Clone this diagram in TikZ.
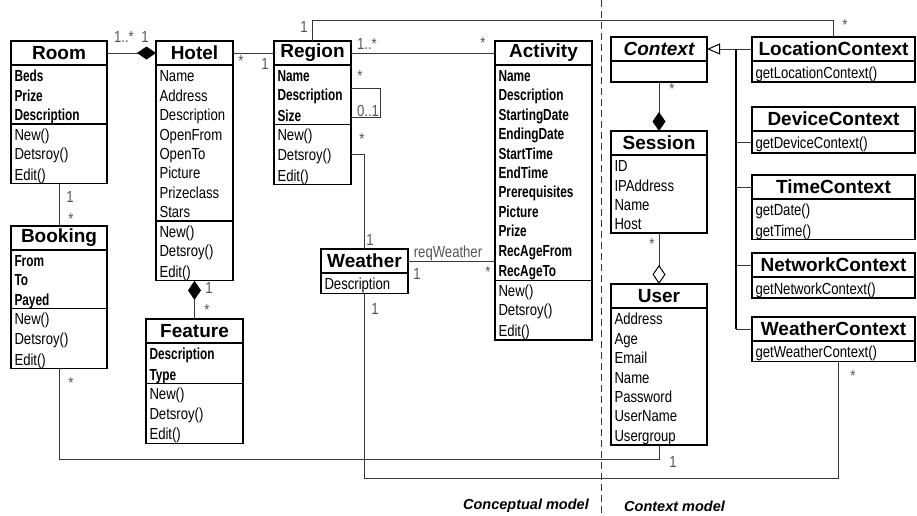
\documentclass[tikz,border=0pt]{standalone}
\usepackage{fontspec}
\setmainfont{Liberation Sans}
\newfontfamily\attrfont[FakeStretch=0.82]{Liberation Sans}
\newfontfamily\attrboldfont[FakeStretch=0.74]{Liberation Sans}
\usepackage{tikz}
\usetikzlibrary{positioning,arrows.meta}
\definecolor{multgray}{gray}{0.33}
\definecolor{linegray}{gray}{0.22}
\newcommand\rowstrut{\rule[-3pt]{0pt}{19.4pt}}

\begin{document}
\begin{tikzpicture}[x=1pt,y=-1pt,
  head/.style={draw,line width=1.3pt,outer sep=0pt,inner sep=0pt,minimum height=24pt,font=\fontsize{19}{19}\selectfont\bfseries},
  sect/.style={draw,line width=1.3pt,outer sep=0pt,inner xsep=3.5pt,inner ysep=0pt,align=left,
    font=\attrfont\fontsize{16}{19.4}\selectfont,execute at begin node=\rowstrut,execute at end node=\rowstrut},
  bsect/.style={sect,font=\attrboldfont\bfseries\fontsize{16}{19.4}\selectfont},
  assoc/.style={draw=linegray,line width=1pt},
  mult/.style={text=multgray,inner sep=0pt,font=\attrfont\fontsize{16}{16}\selectfont},
  compo/.style={-{Diamond[length=19pt,width=13pt,color=black]}},
  aggr/.style={-{Diamond[open,length=19pt,width=13pt,color=black]}},
  gen/.style={-{Triangle[open,length=13pt,width=11pt,color=black]}},
  model/.style={inner sep=0pt,font=\fontsize{14.5}{14.5}\selectfont\bfseries\itshape},
]
\useasboundingbox (0,0) rectangle (917,515);

%%%CONCEPTUAL MODEL
\node[head,minimum width=96pt,anchor=north west] (room) at (11,41) {Room};
\node[bsect,text width=89pt,minimum height=59pt,below=0pt of room] (room-a) {Beds\\Prize\\Description};
\node[sect,text width=89pt,minimum height=59pt,below=0pt of room-a] (room-o) {New()\\Detsroy()\\Edit()};

\node[head,minimum width=77pt,anchor=north west] (hotel) at (156,41) {Hotel};
\node[sect,text width=70pt,minimum height=156pt,below=0pt of hotel] (hotel-a) {Name\\Address\\Description\\OpenFrom\\OpenTo\\Picture\\Prizeclass\\Stars};
\node[sect,text width=70pt,minimum height=58pt,below=0pt of hotel-a] (hotel-o) {New()\\Detsroy()\\Edit()};

\node[head,minimum width=77pt,anchor=north west] (region) at (274,41) {Region};
\node[bsect,text width=70pt,minimum height=59pt,below=0pt of region] (region-a) {Name\\Description\\Size};
\node[sect,text width=70pt,minimum height=59pt,below=0pt of region-a] (region-o) {New()\\Detsroy()\\Edit()};

\node[head,minimum width=97pt,anchor=north west] (activity) at (495,41) {Activity};
\node[bsect,text width=90pt,minimum height=213pt,below=0pt of activity] (activity-a) {Name\\Description\\StartingDate\\EndingDate\\StartTime\\EndTime\\Prerequisites\\Picture\\Prize\\RecAgeFrom\\RecAgeTo};
\node[sect,text width=90pt,minimum height=59pt,below=0pt of activity-a] (activity-o) {New()\\Detsroy()\\Edit()};

\node[head,minimum width=96pt,anchor=north west] (booking) at (11,226) {Booking};
\node[bsect,text width=89pt,minimum height=58pt,below=0pt of booking] (booking-a) {From\\To\\Payed};
\node[sect,text width=89pt,minimum height=59pt,below=0pt of booking-a] (booking-o) {New()\\Detsroy()\\Edit()};

\node[head,minimum width=97pt,anchor=north west] (feature) at (146,319) {Feature};
\node[bsect,text width=90pt,minimum height=39pt,below=0pt of feature] (feature-a) {Description\\Type};
\node[sect,text width=90pt,minimum height=59pt,below=0pt of feature-a] (feature-o) {New()\\Detsroy()\\Edit()};

\node[head,minimum width=87pt,anchor=north west] (weather) at (321,249) {Weather};
\node[sect,text width=80pt,minimum height=20.5pt,below=0pt of weather] (weather-a) {Description};

%%%CONTEXT MODEL
\node[head,minimum width=96pt,anchor=north west,font=\fontsize{19}{19}\selectfont\bfseries\itshape] (context) at (611,37) {Context};
\node[sect,text width=89pt,minimum height=21pt,below=0pt of context] (context-a) {};

\node[head,minimum width=96pt,anchor=north west] (session) at (611,131) {Session};
\node[sect,text width=89pt,minimum height=78pt,below=0pt of session] (session-a) {ID\\IPAddress\\Name\\Host};

\node[head,minimum width=96pt,anchor=north west] (user) at (611,284) {User};
\node[sect,text width=89pt,minimum height=137pt,below=0pt of user] (user-a) {Address\\Age\\Email\\Name\\Password\\UserName\\Usergroup};

\node[head,minimum width=163pt,anchor=north west] (locationctx) at (752,37) {LocationContext};
\node[sect,text width=156pt,minimum height=21pt,below=0pt of locationctx] (locationctx-o) {getLocationContext()};

\node[head,minimum width=163pt,anchor=north west] (devicectx) at (752,107) {DeviceContext};
\node[sect,text width=156pt,minimum height=22pt,below=0pt of devicectx] (devicectx-o) {getDeviceContext()};

\node[head,minimum width=163pt,anchor=north west] (timectx) at (752,175) {TimeContext};
\node[sect,text width=156pt,minimum height=40pt,below=0pt of timectx] (timectx-o) {getDate()\\getTime()};

\node[head,minimum width=163pt,anchor=north west] (networkctx) at (752,253) {NetworkContext};
\node[sect,text width=156pt,minimum height=21pt,below=0pt of networkctx] (networkctx-o) {getNetworkContext()};

\node[head,minimum width=163pt,anchor=north west] (weatherctx) at (752,317) {WeatherContext};
\node[sect,text width=156pt,minimum height=20.5pt,below=0pt of weatherctx] (weatherctx-o) {getWeatherContext()};

%%%ASSOCIATIONS
\draw[assoc,compo] (room.east) -- (hotel.west);
\draw[assoc] (hotel.east) -- (region.west);
\draw[assoc] (region.east) -- (activity.west);
\draw[assoc] ([yshift=6.5pt]region-a.east) -- ++(29,0) -- ++(0,29) -- ([yshift=-22.5pt]region-a.east);
\draw[assoc] (region-o.east) -| (weather.north);
\draw[assoc] (weather.east) -- (weather.east -| activity-a.west);
\draw[assoc] (room-o.south) -- (booking.north);
\draw[assoc,compo] (feature.north) -- (hotel-o.south);
\draw[assoc] (region.north) -- ++(0,-21) -| (locationctx.north);
\draw[assoc] (booking-o.south) |- ([yshift=-14pt]user-a.south) -- (user-a.south);
\draw[assoc] (weather-a.south) |- ([xshift=4.5pt,yshift=-117pt]weatherctx-o.south) -- ([xshift=4.5pt]weatherctx-o.south);
\draw[assoc,compo] (context-a.south) -- (session.north);
\draw[assoc,aggr] (session-a.south) -- (user.north);

%%%GENERALIZATION
\coordinate (bus) at (736,49);
\draw[assoc,gen] (locationctx.west) -- (context.east);
\draw[line width=2pt] (bus) -- (bus |- weatherctx.west);
\draw[assoc] (bus |- devicectx-o.west) -- (devicectx-o.west);
\draw[assoc] (bus |- timectx.west) -- (timectx.west);
\draw[assoc] (bus |- networkctx.west) -- (networkctx.west);
\draw[assoc] (bus |- weatherctx.west) -- (weatherctx.west);

%%%MULTIPLICITIES
\node[mult] (rh-room) at (124,37) {1..*};
\node[mult] (rh-hotel) at (145,37) {1};
\node[mult] (hr-hotel) at (241,61) {*};
\node[mult] (hr-region) at (265,64) {1};
\node[mult] (rl-region) at (304,27) {1};
\node[mult] (rl-loc) at (845,25) {*};
\node[mult] (ra-region) at (367,44) {1..*};
\node[mult] (ra-activity) at (483,43) {*};
\node[mult] (rr-many) at (360,76) {*};
\node[mult] (rr-opt) at (368,111) {0..1};
\node[mult] (rw-region) at (362,139) {*};
\node[mult] (rw-weather) at (370,240) {1};
\node[mult] (req) at (448,253) {reqWeather};
\node[mult] (wa-weather) at (417,274) {1};
\node[mult] (wa-activity) at (488,272) {*};
\node[mult] (ww-weather) at (375,309) {1};
\node[mult] (rb-room) at (70,197) {1};
\node[mult] (rb-booking) at (71,219) {*};
\node[mult] (bu-booking) at (71,383) {*};
\node[mult] (bu-user) at (673,462) {1};
\node[mult] (hf-hotel) at (209,288) {1};
\node[mult] (hf-feature) at (207,310) {*};
\node[mult] (cs-context) at (672,89) {*};
\node[mult] (su-session) at (652,244) {*};
\node[mult] (ww-ctx) at (853,376) {*};

%%%MODEL BORDER
\draw[linegray,line width=1pt,dash pattern=on 7pt off 4pt] (601,0) -- (601,515);
\node[model,anchor=east] (concept) at (589,506) {Conceptual model};
\node[model,anchor=west] (ctxmodel) at (624,506) {Context model};
\end{tikzpicture}
\end{document}
